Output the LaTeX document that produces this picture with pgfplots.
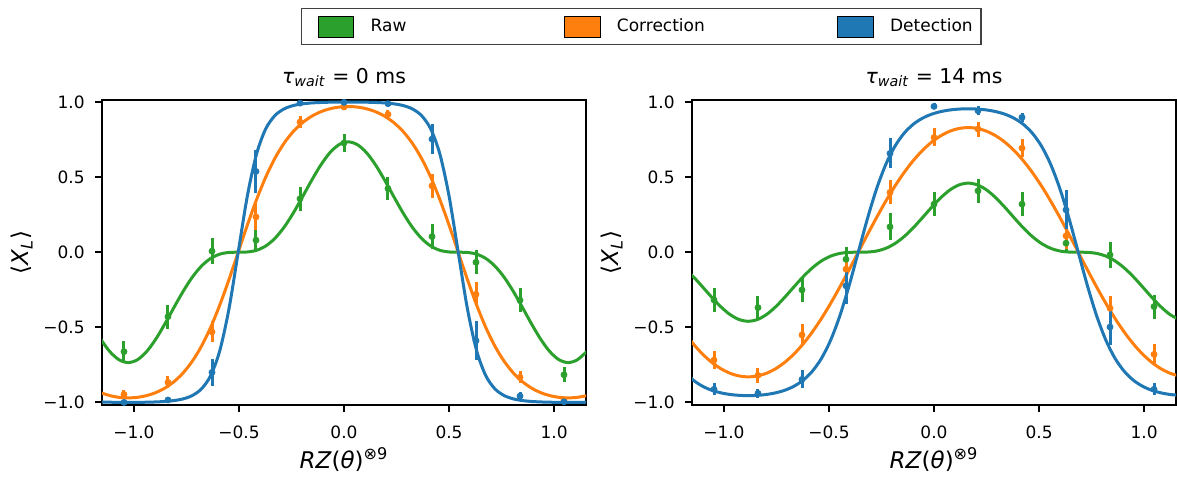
\documentclass[border=0pt]{standalone}
\usepackage{fontspec}
\setmainfont{DejaVu Sans}
\usepackage{pgfplots}
\pgfplotsset{compat=1.18}
\usepackage{pgfplotstable}
\definecolor{cgreen}{HTML}{2CA02C}
\definecolor{corange}{HTML}{FF7F0E}
\definecolor{cblue}{HTML}{1F77B4}

% fitted curves, tau = 0 ms
\pgfplotstableread{
x g o b
-1.1581 -0.5796 -0.9351 -0.9971
-1.1145 -0.6624 -0.9550 -0.9989
-1.0708 -0.7163 -0.9664 -0.9998
-1.0272 -0.7350 -0.9700 -1.0000
-0.9836 -0.7163 -0.9664 -0.9998
-0.9399 -0.6624 -0.9550 -0.9989
-0.8963 -0.5796 -0.9351 -0.9971
-0.8527 -0.4774 -0.9048 -0.9939
-0.8090 -0.3670 -0.8618 -0.9879
-0.7654 -0.2599 -0.8032 -0.9765
-0.7218 -0.1658 -0.7253 -0.9542
-0.6781 -0.0919 -0.6249 -0.9097
-0.6345 -0.0412 -0.4997 -0.8212
-0.5909 -0.0127 -0.3502 -0.6539
-0.5472 -0.0016 -0.1808 -0.3746
-0.5036 0.0000 0.0000 0.0000
-0.4600 0.0016 0.1808 0.3746
-0.4163 0.0127 0.3502 0.6539
-0.3727 0.0412 0.4997 0.8212
-0.3291 0.0919 0.6249 0.9097
-0.2854 0.1658 0.7253 0.9542
-0.2418 0.2599 0.8032 0.9765
-0.1982 0.3670 0.8618 0.9879
-0.1545 0.4774 0.9048 0.9939
-0.1109 0.5796 0.9351 0.9971
-0.0673 0.6624 0.9550 0.9989
-0.0236 0.7163 0.9664 0.9998
0.0200 0.7350 0.9700 1.0000
0.0636 0.7163 0.9664 0.9998
0.1073 0.6624 0.9550 0.9989
0.1509 0.5796 0.9351 0.9971
0.1945 0.4774 0.9048 0.9939
0.2382 0.3670 0.8618 0.9879
0.2818 0.2599 0.8032 0.9765
0.3254 0.1658 0.7253 0.9542
0.3691 0.0919 0.6249 0.9097
0.4127 0.0412 0.4997 0.8212
0.4563 0.0127 0.3502 0.6539
0.5000 0.0016 0.1808 0.3746
0.5436 0.0000 0.0000 0.0000
0.5872 -0.0016 -0.1808 -0.3746
0.6309 -0.0127 -0.3502 -0.6539
0.6745 -0.0412 -0.4997 -0.8212
0.7181 -0.0919 -0.6249 -0.9097
0.7618 -0.1658 -0.7253 -0.9542
0.8054 -0.2599 -0.8032 -0.9765
0.8490 -0.3670 -0.8618 -0.9879
0.8927 -0.4774 -0.9048 -0.9939
0.9363 -0.5796 -0.9351 -0.9971
0.9799 -0.6624 -0.9550 -0.9989
1.0236 -0.7163 -0.9664 -0.9998
1.0672 -0.7350 -0.9700 -1.0000
1.1108 -0.7163 -0.9664 -0.9998
1.1545 -0.6624 -0.9550 -0.9989
}\fitA

% fitted curves, tau = 14 ms
\pgfplotstableread{
x g o b
-1.1896 -0.1038 -0.5304 -0.7921
-1.1460 -0.1626 -0.6098 -0.8518
-1.1024 -0.2297 -0.6773 -0.8921
-1.0587 -0.2988 -0.7325 -0.9189
-1.0151 -0.3627 -0.7753 -0.9363
-0.9715 -0.4146 -0.8057 -0.9472
-0.9278 -0.4483 -0.8240 -0.9531
-0.8842 -0.4600 -0.8300 -0.9550
-0.8406 -0.4483 -0.8240 -0.9531
-0.7969 -0.4146 -0.8057 -0.9472
-0.7533 -0.3627 -0.7753 -0.9363
-0.7097 -0.2988 -0.7325 -0.9189
-0.6660 -0.2297 -0.6773 -0.8921
-0.6224 -0.1626 -0.6098 -0.8518
-0.5788 -0.1038 -0.5304 -0.7921
-0.5351 -0.0575 -0.4399 -0.7055
-0.4915 -0.0258 -0.3395 -0.5840
-0.4479 -0.0080 -0.2311 -0.4223
-0.4042 -0.0010 -0.1171 -0.2229
-0.3606 0.0000 0.0000 0.0000
-0.3170 0.0010 0.1171 0.2229
-0.2733 0.0080 0.2311 0.4223
-0.2297 0.0258 0.3395 0.5840
-0.1861 0.0575 0.4399 0.7055
-0.1424 0.1038 0.5304 0.7921
-0.0988 0.1626 0.6098 0.8518
-0.0552 0.2297 0.6773 0.8921
-0.0115 0.2988 0.7325 0.9189
0.0321 0.3627 0.7753 0.9363
0.0757 0.4146 0.8057 0.9472
0.1194 0.4483 0.8240 0.9531
0.1630 0.4600 0.8300 0.9550
0.2066 0.4483 0.8240 0.9531
0.2503 0.4146 0.8057 0.9472
0.2939 0.3627 0.7753 0.9363
0.3375 0.2988 0.7325 0.9189
0.3812 0.2297 0.6773 0.8921
0.4248 0.1626 0.6098 0.8518
0.4684 0.1038 0.5304 0.7921
0.5121 0.0575 0.4399 0.7055
0.5557 0.0258 0.3395 0.5840
0.5993 0.0080 0.2311 0.4223
0.6430 0.0010 0.1171 0.2229
0.6866 0.0000 0.0000 0.0000
0.7302 -0.0010 -0.1171 -0.2229
0.7739 -0.0080 -0.2311 -0.4223
0.8175 -0.0258 -0.3395 -0.5840
0.8611 -0.0575 -0.4399 -0.7055
0.9048 -0.1038 -0.5304 -0.7921
0.9484 -0.1626 -0.6098 -0.8518
0.9920 -0.2297 -0.6773 -0.8921
1.0357 -0.2988 -0.7325 -0.9189
1.0793 -0.3627 -0.7753 -0.9363
1.1229 -0.4146 -0.8057 -0.9472
1.1666 -0.4483 -0.8240 -0.9531
}\fitB

% measured points: x, value, error
\pgfplotstableread{
x g ge o oe b be
-1.0472 -0.662 0.070 -0.947 0.030 -1.000 0.010
-0.8378 -0.429 0.080 -0.867 0.040 -0.984 0.015
-0.6283 0.007 0.087 -0.531 0.070 -0.800 0.090
-0.4189 0.080 0.075 0.235 0.090 0.538 0.145
-0.2094 0.356 0.080 0.867 0.040 0.993 0.010
0.0000 0.727 0.060 0.967 0.020 0.998 0.010
0.2094 0.424 0.075 0.918 0.030 0.989 0.010
0.4189 0.104 0.085 0.442 0.080 0.753 0.100
0.6283 -0.067 0.080 -0.280 0.080 -0.589 0.130
0.8378 -0.320 0.080 -0.833 0.040 -0.958 0.030
1.0472 -0.816 0.050 -0.985 0.020 -0.996 0.010
}\ptsA

\pgfplotstableread{
x g ge o oe b be
-1.0472 -0.318 0.080 -0.718 0.060 -0.913 0.040
-0.8378 -0.369 0.080 -0.820 0.050 -0.940 0.030
-0.6283 -0.251 0.080 -0.551 0.070 -0.847 0.060
-0.4189 -0.047 0.085 -0.113 0.070 -0.224 0.120
-0.2094 0.169 0.090 0.398 0.080 0.658 0.100
0.0000 0.320 0.080 0.764 0.060 0.971 0.020
0.2094 0.409 0.080 0.820 0.050 0.942 0.030
0.4189 0.320 0.080 0.693 0.060 0.898 0.030
0.6283 0.060 0.060 0.109 0.090 0.282 0.130
0.8378 -0.018 0.085 -0.373 0.080 -0.498 0.120
1.0472 -0.362 0.080 -0.680 0.070 -0.913 0.040
}\ptsB

\pgfplotsset{
  myax/.style={
    scale only axis, width=242pt, height=152.5pt,
    xmin=-1.1519, xmax=1.1519, ymin=-1.0175, ymax=1.0135,
    axis line style={line width=1pt},
    every tick/.style={black, line width=1pt},
    tick align=outside, major tick length=3.5pt,
    xtick pos=bottom, ytick pos=left,
    xtick={-1,-0.5,0,0.5,1}, xticklabels={−1.0,−0.5,0.0,0.5,1.0},
    ytick={-1,-0.5,0,0.5,1}, yticklabels={−1.0,−0.5,0.0,0.5,1.0},
    tick label style={font=\fontsize{8.5}{10}\selectfont, inner sep=0pt},
    xticklabel style={anchor=base, yshift=-13.1pt},
    yticklabel style={anchor=east, xshift=-5pt},
    label style={font=\fontsize{11.5}{13}\selectfont},
    xlabel={\textit{RZ}(\textit{θ})\textsuperscript{⊗9}},
    ylabel={⟨\textit{X}\textsubscript{\textit{L}}⟩},
    xlabel style={at={(axis description cs:0.5,-0.2075)}, anchor=base, inner sep=0pt},
    ylabel style={at={(axis description cs:-0.1653,0.5)}, anchor=center, inner sep=0pt},
    title style={at={(axis description cs:0.5,1.0557)}, anchor=base, inner sep=0pt, yshift=-6pt, font=\fontsize{10.2}{12}\selectfont},
    clip=true,
  },
  fitline/.style={line width=1.5pt, smooth, no markers},
  pts/.style={only marks, mark=*, mark size=1.5pt,
    error bars/.cd, y dir=both, y explicit, error mark=none,
    error bar style={line width=1.5pt, #1}},
}

\begin{document}
\begin{tikzpicture}
\useasboundingbox (0,0) rectangle (588.5pt,-238.5pt);

\begin{axis}[myax, at={(51pt,-202.5pt)}, anchor=south west,
  title={\textit{τ}\textsubscript{\textit{wait}} = 0 ms},
  legend columns=3,
  legend style={at={(0.4112,1.3007)}, anchor=north west, draw=black!75, line width=0.6pt,
    inner xsep=8.15pt, inner ysep=3.6pt, font=\fontsize{8.5}{10}\selectfont,
    nodes={inner sep=0pt}, column sep=0pt},
  legend cell align=left]
\addlegendimage{legend image code/.code={\draw[fill=cgreen, draw=black, line width=0.4pt] (0pt,-5.15pt) rectangle (17.7pt,5.15pt);}}
\addlegendentry{\hspace{8.3pt}\makebox[96.7pt][l]{Raw}}
\addlegendimage{legend image code/.code={\draw[fill=corange, draw=black, line width=0.4pt] (0pt,-5.15pt) rectangle (17.7pt,5.15pt);}}
\addlegendentry{\hspace{8.3pt}\makebox[110.2pt][l]{Correction}}
\addlegendimage{legend image code/.code={\draw[fill=cblue, draw=black, line width=0.4pt] (0pt,-5.15pt) rectangle (17.7pt,5.15pt);}}
\addlegendentry{\hspace{8.3pt}Detection\kern-4pt}

\addplot[cgreen, fitline, forget plot] table[x=x, y=g] {\fitA};
\addplot[cgreen, forget plot, pts=cgreen] table[x=x, y=g, y error=ge] {\ptsA};
\addplot[corange, fitline, forget plot] table[x=x, y=o] {\fitA};
\addplot[corange, forget plot, pts=corange] table[x=x, y=o, y error=oe] {\ptsA};
\addplot[cblue, fitline, forget plot] table[x=x, y=b] {\fitA};
\addplot[cblue, forget plot, pts=cblue] table[x=x, y=b, y error=be] {\ptsA};
\end{axis}

\begin{axis}[myax, at={(346pt,-202.5pt)}, anchor=south west,
  title={\textit{τ}\textsubscript{\textit{wait}} = 14 ms}]
\addplot[cgreen, fitline] table[x=x, y=g] {\fitB};
\addplot[cgreen, pts=cgreen] table[x=x, y=g, y error=ge] {\ptsB};
\addplot[corange, fitline] table[x=x, y=o] {\fitB};
\addplot[corange, pts=corange] table[x=x, y=o, y error=oe] {\ptsB};
\addplot[cblue, fitline] table[x=x, y=b] {\fitB};
\addplot[cblue, pts=cblue] table[x=x, y=b, y error=be] {\ptsB};
\end{axis}
\end{tikzpicture}
\end{document}
